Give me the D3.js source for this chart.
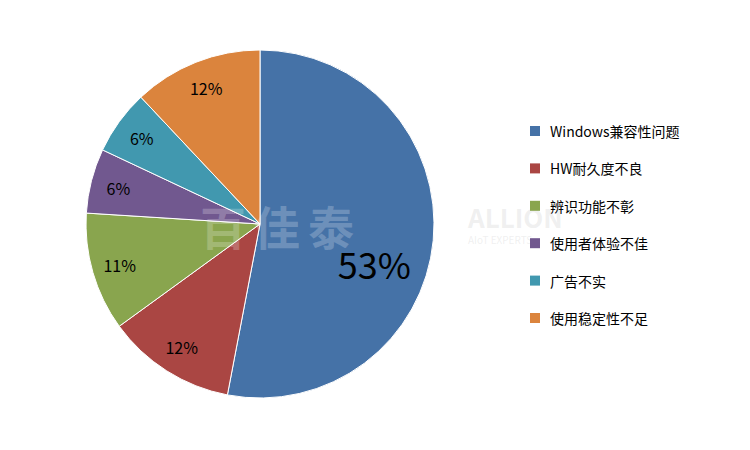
<!DOCTYPE html>
<html lang="zh">
<head>
<meta charset="UTF-8" />
<style>
  body { margin: 0; background: #fff; }
  text { font-family: "Noto Sans CJK SC", "Open Sans", sans-serif; }
</style>
</head>
<body>
<svg></svg>
<script src="https://cdnjs.cloudflare.com/ajax/libs/d3/7.8.5/d3.min.js"></script>
<script>
const categories = ["Windows兼容性问题", "HW耐久度不良", "辨识功能不彰", "使用者体验不佳", "广告不实", "使用稳定性不足"];
const values = [53, 12, 11, 6, 6, 12];
const colors = ["#4572a7", "#aa4643", "#89a54e", "#71588f", "#4198af", "#db843d"];

const width = 750, height = 450;
const cx = 260, cy = 224, radius = 174;

const svg = d3.select("svg").attr("width", width).attr("height", height);

const pie = d3.pie().sort(null).value(d => d.v);
const arcs = pie(values.map((v, i) => ({ v, i })));
const arc = d3.arc().innerRadius(0).outerRadius(radius);
const smallArc = d3.arc().innerRadius(radius * 0.84).outerRadius(radius * 0.84);
const bigArc = d3.arc().innerRadius(radius * 0.66).outerRadius(radius * 0.66);

const g = svg.append("g").attr("transform", `translate(${cx},${cy})`);

g.selectAll("path").data(arcs).enter().append("path")
  .attr("d", arc)
  .attr("fill", d => colors[d.data.i])
  .attr("stroke", "#fff")
  .attr("stroke-width", 1);

// faint watermark
svg.append("text").attr("x", 200).attr("y", 245).attr("font-size", 46).attr("font-weight", "bold")
  .attr("fill", "#fff").attr("fill-opacity", 0.22).attr("letter-spacing", 8).text("百佳泰");
svg.append("text").attr("x", 468).attr("y", 228).attr("font-size", 26).attr("font-weight", "bold")
  .attr("fill", "#ccc").attr("fill-opacity", 0.3).text("ALLION");
svg.append("text").attr("x", 468).attr("y", 244).attr("font-size", 10)
  .attr("fill", "#ccc").attr("fill-opacity", 0.3).text("AIoT EXPERTS");

g.selectAll("text.lbl").data(arcs).enter().append("text")
  .attr("class", "lbl")
  .attr("transform", d => {
    const big = d.data.v > 40;
    const c = big ? bigArc.centroid(d) : smallArc.centroid(d);
    return `translate(${c[0]},${c[1] + (big ? 28 : 0)})`;
  })
  .attr("text-anchor", "middle")
  .attr("dominant-baseline", "central")
  .attr("font-size", d => d.data.v > 40 ? 36 : 16)
  .attr("fill", "#000")
  .text(d => d.data.v + "%");

const y = d3.scalePoint().domain(categories).range([131, 318]);
const legend = svg.append("g").selectAll("g").data(categories).enter().append("g")
  .attr("transform", d => `translate(530,${y(d)})`);
legend.append("rect").attr("x", 0).attr("y", -5).attr("width", 10).attr("height", 10)
  .attr("fill", (d, i) => colors[i]);
legend.append("text").attr("x", 20).attr("y", 0).attr("dominant-baseline", "central")
  .attr("font-size", 14).attr("fill", "#000").text(d => d);
</script>
</body>
</html>
